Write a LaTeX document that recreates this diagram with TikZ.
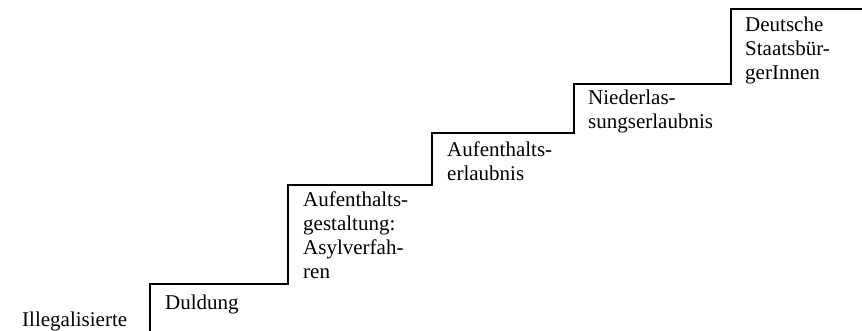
\documentclass[tikz,border=0pt]{standalone}
\usepackage{fontspec}
\setmainfont{Liberation Serif}
\usepackage{tikz}
\tikzset{%
    stufe/.style={inner sep=0pt,anchor=north west,align=left,font=\fontsize{21}{24}\selectfont},
    treppe/.style={line width=2pt,line join=miter}
}

\begin{document}
\begin{tikzpicture}[x=1pt,y=1pt]
        \useasboundingbox (0,0) rectangle (862,331);
        \coordinate (s0) at (150,-2);
        \coordinate (s1) at (150,47);
        \coordinate (s2) at (288,47);
        \coordinate (s3) at (288,146);
        \coordinate (s4) at (432,146);
        \coordinate (s5) at (432,198);
        \coordinate (s6) at (574,198);
        \coordinate (s7) at (574,247);
        \coordinate (s8) at (731,247);
        \coordinate (s9) at (731,322);
        \coordinate (s10) at (864,322);
        \draw[treppe] (s0) -- (s1) -- (s2) -- (s3) -- (s4) -- (s5) -- (s6) -- (s7) -- (s8) -- (s9) -- (s10);
        \node[stufe] (ill) at (22,19.5){Illegalisierte};
        \node[stufe] (dul) at (165,36){Duldung};
        \node[stufe] (asyl) at (303,139){Aufenthalts-\\gestaltung:\\Asylverfah-\\ren};
        \node[stufe] (aufe) at (447,189){Aufenthalts-\\erlaubnis};
        \node[stufe] (nied) at (588,241){Niederlas-\\sungserlaubnis};
        \node[stufe] (deut) at (745,314){Deutsche\\Staatsbür-\\gerInnen};
    \end{tikzpicture}
\end{document}
